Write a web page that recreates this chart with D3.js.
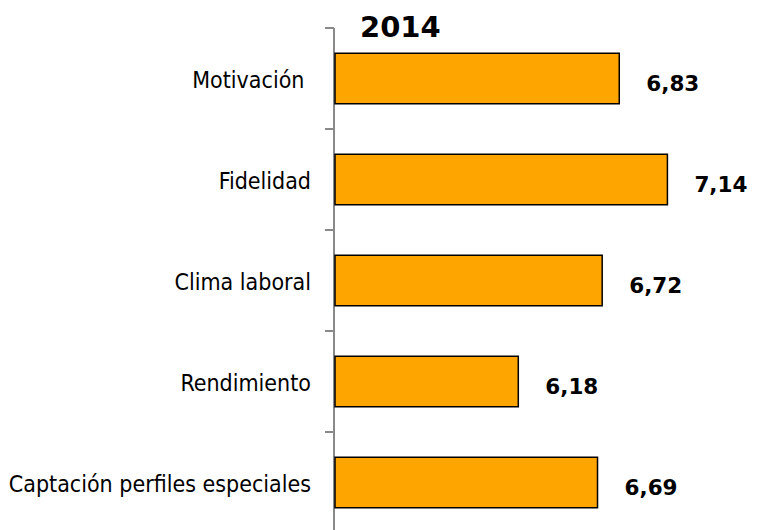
<!DOCTYPE html>
<html>
<head>
<meta charset="utf-8">
<script src="https://cdn.jsdelivr.net/npm/d3@7"></script>
<style>
  body { margin: 0; background: #fff; }
  svg { display: block; }
  .cat { font-family: "DejaVu Sans Condensed", "DejaVu Sans", sans-serif; font-size: 23px; fill: #000; white-space: pre; }
  .val { font-family: "DejaVu Sans", sans-serif; font-weight: bold; font-size: 21.5px; fill: #000; }
  .title { font-family: "DejaVu Sans", sans-serif; font-weight: bold; font-size: 29px; fill: #000; }
</style>
</head>
<body>
<div id="chart"></div>
<script>
// categories top to bottom, as in the picture
var categories = ['Motivación ', 'Fidelidad', 'Clima laboral', 'Rendimiento', 'Captación perfiles especiales'];
var values     = [6.83, 7.14, 6.72, 6.18, 6.69];
var title      = '2014';
var x_domain   = [5, 8];

var fmt = (v) => v.toFixed(2).replace('.', ',');

var width  = 759;
var height = 530;

var svg = d3.select('#chart').append('svg')
  .attr('width', width)
  .attr('height', height);

var x = d3.scaleLinear()
  .domain(x_domain)
  .range([335, 801]);

var y = d3.scaleBand()
  .domain(categories)
  .range([28, 533])
  .paddingInner(0.5)
  .paddingOuter(0.25);

var data = categories.map((c, i) => ({ cat: c, value: values[i] }));

// axis: vertical line with ticks between bands
var axis = svg.append('g').attr('class', 'axis');

axis.append('line')
  .attr('x1', 334).attr('x2', 334)
  .attr('y1', 28).attr('y2', height)
  .attr('stroke', '#898989')
  .attr('stroke-width', 2);

axis.selectAll('line.tick')
  .data(d3.range(categories.length + 1))
  .enter()
  .append('line')
  .attr('class', 'tick')
  .attr('x1', 325).attr('x2', 334)
  .attr('y1', (i) => y.range()[0] + i * y.step())
  .attr('y2', (i) => y.range()[0] + i * y.step())
  .attr('stroke', '#898989')
  .attr('stroke-width', 2);

svg.selectAll('rect.bar')
  .data(data)
  .enter()
  .append('rect')
  .attr('class', 'bar')
  .attr('x', x(x_domain[0]))
  .attr('y', (d) => y(d.cat))
  .attr('width', (d) => x(d.value) - x(x_domain[0]))
  .attr('height', y.bandwidth())
  .attr('fill', '#FFA500')
  .attr('stroke', '#000')
  .attr('stroke-width', 1.5);

svg.selectAll('text.cat')
  .data(data)
  .enter()
  .append('text')
  .attr('class', 'cat')
  .attr('x', 311)
  .attr('y', (d) => y(d.cat) + y.bandwidth() / 2)
  .attr('dy', '0.4em')
  .attr('text-anchor', 'end')
  .text((d) => d.cat);

svg.selectAll('text.val')
  .data(data)
  .enter()
  .append('text')
  .attr('class', 'val')
  .attr('x', (d) => x(d.value) + 27)
  .attr('y', (d) => y(d.cat) + y.bandwidth() / 2 + 12)
  .text((d) => fmt(d.value));

svg.append('text')
  .attr('class', 'title')
  .attr('x', 360)
  .attr('y', 37)
  .text(title);
</script>
</body>
</html>
